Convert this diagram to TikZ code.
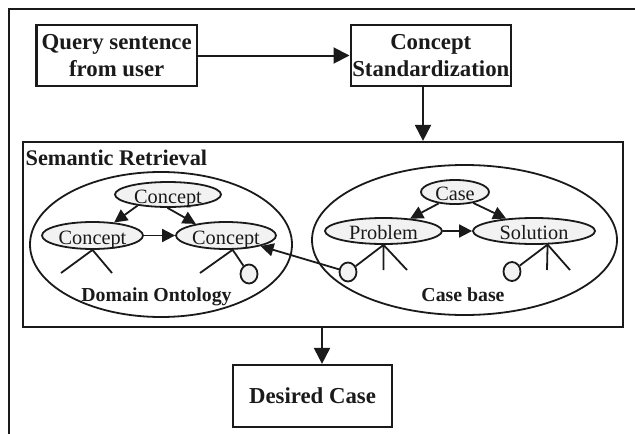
\documentclass[tikz,border=0pt]{standalone}
\usepackage{fontspec}
\setmainfont{Liberation Serif}
\usetikzlibrary{shapes.geometric,arrows.meta}
\definecolor{conceptfill}{RGB}{242,242,242}
\definecolor{ink}{RGB}{26,26,26}
\begin{document}
\begin{tikzpicture}[x=1pt,y=-1pt, color=ink,
  box/.style={draw, line width=2.2pt, rectangle, inner sep=0pt, align=center,
              font=\fontsize{22.8}{27}\selectfont\bfseries},
  bigarr/.style={line width=2pt, -{Triangle[length=16pt,width=16pt]}},
  smallarr/.style={line width=1.8pt, -{Triangle[length=13pt,width=13pt]}},
  region/.style={draw, ellipse, line width=1.8pt, inner sep=0pt},
  cnode/.style={draw, ellipse, line width=1.8pt, fill=conceptfill, inner sep=0pt,
                text height=17pt, text depth=0pt, font=\fontsize{20.3}{24}\selectfont},
  knob/.style={draw, ellipse, line width=1.8pt, fill=conceptfill, inner sep=0pt,
               minimum width=17pt, minimum height=19pt},
  stick/.style={line width=1.8pt},
  lbl/.style={font=\fontsize{19.8}{23}\selectfont\bfseries, inner sep=0pt, anchor=base}
]
\useasboundingbox (0,0) rectangle (635,434);

% outer frame, running off the page to the right and bottom
\begin{scope}
  \clip (0,0) rectangle (635,434);
  \draw[line width=2.6pt] (645,9) -- (9,9) -- (9,444);
\end{scope}

% top row
\node[box, minimum width=160.6, minimum height=61] (query) at (116.7,55.5) {Query sentence\\from user};
\node[box, minimum width=160.4, minimum height=61] (std) at (430.8,55.5) {Concept\\Standardization};

% retrieval frame
\node[box, minimum width=599.7, minimum height=185] (sr) at (323.2,234.5) {};
\node[font=\fontsize{22.3}{26}\selectfont\bfseries, anchor=base west, inner sep=0pt] (srlabel) at (25.5,165) {Semantic Retrieval};

% result
\node[box, minimum width=159, minimum height=62] (desired) at (312.5,396) {Desired Case};

\coordinate (xa) at (423,0);
\coordinate (xb) at (322,0);
\draw[bigarr] (query) -- (std);
\draw[bigarr] (std.south -| xa) -- (sr.north -| xa);
\draw[bigarr] (sr.south -| xb) -- (desired.north -| xb);

% domain ontology
\node[region, minimum width=262, minimum height=145] (onto) at (161,244.5) {};
\node[cnode, minimum width=106, minimum height=25] (c1) at (168,194.5) {Concept};
\node[cnode, minimum width=101, minimum height=27] (c2) at (92.5,235.5) {Concept};
\node[cnode, minimum width=100, minimum height=27] (c3) at (226,235.5) {Concept};
\draw[smallarr] (c1.200) -- (c2.31);
\draw[smallarr] (c1.-92) -- (c3.159);
\draw[smallarr] (c2) -- (c3);
\draw[stick] (61,273) -- (c2.south) -- (112,273);
\node[knob] (k1) at (249,274) {};
\draw[stick] (200,273) -- (c3.-65) -- (k1);
\node[lbl] (ontolabel) at (156.5,301.7) {Domain Ontology};

% case base
\node[region, minimum width=305, minimum height=150] (cases) at (464.5,240) {};
\node[cnode, minimum width=68, minimum height=24] (case) at (455,192) {Case};
\node[cnode, minimum width=117, minimum height=26] (prob) at (383.5,231) {Problem};
\node[cnode, minimum width=122, minimum height=26] (sol) at (534,231) {Solution};
\draw[smallarr] (case.215) -- (prob.25);
\draw[smallarr] (case.-31) -- (sol.156);
\draw[smallarr] (prob) -- (sol);
\node[knob] (k2) at (348,272) {};
\node[knob] (k3) at (512,271.5) {};
\draw[stick] (k2) -- (prob.south) -- (383.5,270);
\draw[stick] (prob.south) -- (407,270);
\draw[stick] (k3) -- (sol.-45) -- (547,270);
\draw[stick] (sol.-45) -- (570,270);
\node[lbl] (caselabel) at (463,301.7) {Case base};

% link from a problem attribute to a domain concept
\draw[smallarr] (k2) -- (c3.-17);
\end{tikzpicture}
\end{document}
